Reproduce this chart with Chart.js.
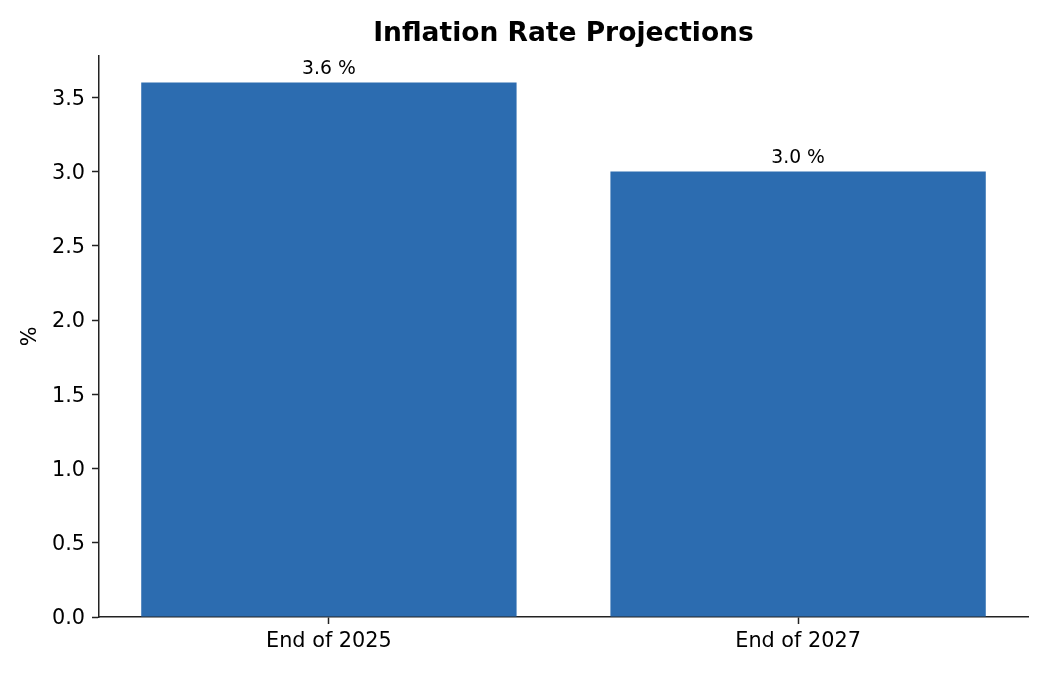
<!DOCTYPE html>
<html>
<head>
<meta charset="utf-8">
<script src="https://cdn.jsdelivr.net/npm/chart.js@4/dist/chart.umd.min.js"></script>
<style>
    body { margin: 0; background: #fff; }
    #wrap { width: 1050px; height: 675px; }
</style>
</head>
<body>
<div id="wrap"><canvas id="inflation"></canvas></div>
<script>
const categories = ['End of 2025', 'End of 2027'];
const rates = [3.6, 3.0];
const yTicks = [0, 0.5, 1, 1.5, 2, 2.5, 3, 3.5];

const font = 'DejaVu Sans';

// value labels above the bars
const barLabels = {
    id: 'barLabels',
    afterDatasetsDraw(chart) {
        const ctx = chart.ctx;
        const meta = chart.getDatasetMeta(0);
        ctx.save();
        ctx.font = '18.75px "' + font + '"';
        ctx.fillStyle = '#000';
        ctx.textAlign = 'center';
        ctx.textBaseline = 'alphabetic';
        meta.data.forEach((bar, i) => {
            ctx.fillText(rates[i].toFixed(1) + ' %', bar.x, bar.y - 9);
        });
        ctx.restore();
    },
};

new Chart(document.querySelector('#inflation'), {
    type: 'bar',
    data: {
        datasets: [
            {
                data: rates.map((r, i) => ({ x: i, y: r })),
                backgroundColor: '#2c6cb0',
                borderWidth: 0,
                categoryPercentage: 1,
                barPercentage: 0.8,
            },
        ],
    },
    options: {
        responsive: true,
        maintainAspectRatio: false,
        animation: false,
        layout: { padding: { left: 0, right: 22, top: 0, bottom: 0 } },
        plugins: {
            legend: { display: false },
            tooltip: { enabled: false },
            title: {
                display: true,
                text: 'Inflation Rate Projections',
                fullSize: false,
                color: '#000',
                font: { family: font, size: 26.5, weight: 'bold' },
                padding: { top: 18, bottom: 6 },
            },
        },
        scales: {
            x: {
                type: 'linear',
                offset: false,
                min: -0.49,
                max: 1.49,
                afterBuildTicks: scale => {
                    scale.ticks = categories.map((c, i) => ({ value: i }));
                },
                afterFit: scale => { scale.height = 58; },
                ticks: {
                    color: '#000',
                    font: { family: font, size: 20.8 },
                    padding: 5,
                    maxRotation: 0,
                    autoSkip: false,
                    callback: v => categories[v],
                },
                grid: {
                    display: true,
                    offset: false,
                    drawOnChartArea: false,
                    drawTicks: true,
                    tickLength: 7,
                    tickWidth: 1.5,
                    tickColor: '#222',
                },
                border: { display: true, color: '#222', width: 1.5 },
            },
            y: {
                min: 0,
                max: 3.78,
                afterBuildTicks: scale => {
                    scale.ticks = yTicks.map(v => ({ value: v }));
                },
                afterFit: scale => { scale.width = 99; },
                title: {
                    display: true,
                    text: '%',
                    color: '#000',
                    font: { family: font, size: 20.8 },
                    padding: { top: 18, bottom: 0 },
                },
                ticks: {
                    color: '#000',
                    font: { family: font, size: 20.8 },
                    padding: 7,
                    labelOffset: 2,
                    callback: v => v.toFixed(1),
                },
                grid: {
                    display: true,
                    drawOnChartArea: false,
                    drawTicks: true,
                    tickLength: 7,
                    tickWidth: 1.5,
                    tickColor: '#222',
                },
                border: { display: true, color: '#222', width: 1.5 },
            },
        },
    },
    plugins: [barLabels],
});
</script>
</body>
</html>
